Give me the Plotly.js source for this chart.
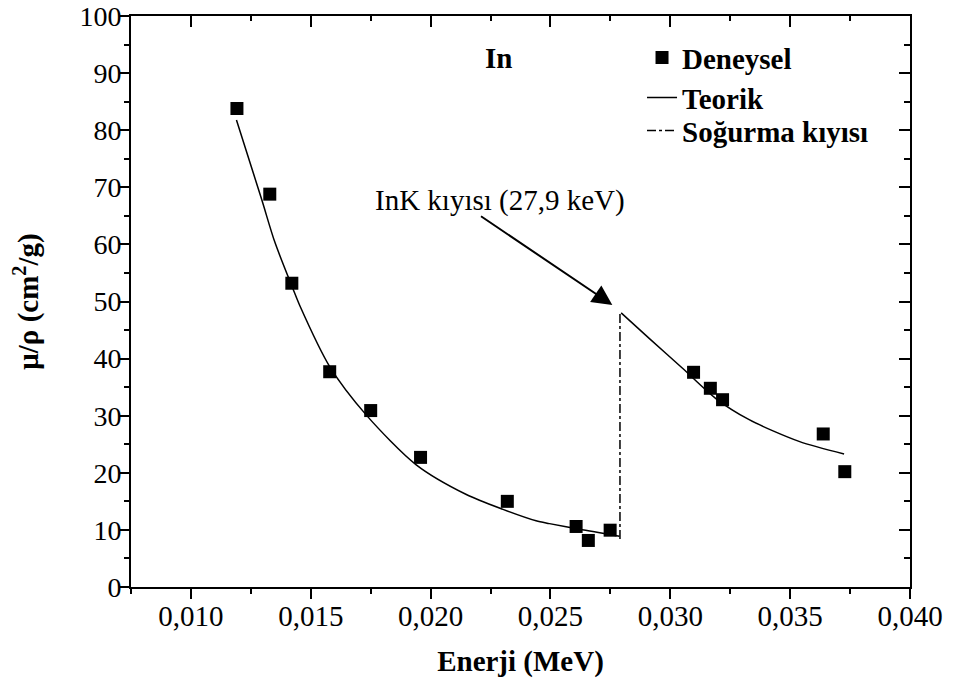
<!DOCTYPE html>
<html>
<head>
<meta charset="utf-8">
<script src="https://cdn.plot.ly/plotly-3.0.1.min.js"></script>
<style>html,body{margin:0;padding:0;background:#fff;}#chart{width:958px;height:681px;}</style>
</head>
<body>
<div id="chart"></div>
<script>
// Experimental points (Deneysel)
var expEnergy = [0.01192, 0.01329, 0.01421, 0.01579, 0.0175, 0.01958, 0.0232, 0.02607, 0.02658, 0.02749, 0.03097, 0.03167, 0.03218, 0.03638, 0.03728];
var expMu     = [83.8, 68.8, 53.2, 37.7, 30.9, 22.7, 15.0, 10.6, 8.15, 9.95, 37.6, 34.8, 32.8, 26.8, 20.2];

// Theoretical curve (Teorik), below and above the K edge
var theoryLowE  = [0.0119, 0.01295, 0.0135, 0.01426, 0.01454, 0.01579, 0.01732, 0.0194, 0.02149, 0.02302, 0.0244, 0.02496, 0.02621, 0.02788];
var theoryLowMu = [81.8, 67.9, 60.4, 52.2, 49.3, 38.6, 30.1, 21.4, 16.2, 13.6, 11.6, 11.1, 10.1, 8.9];
var theoryHighE  = [0.02795, 0.02913, 0.03051, 0.0319, 0.03329, 0.03537, 0.03725];
var theoryHighMu = [48.0, 43.5, 38.3, 33.0, 29.3, 25.5, 23.3];

// Absorption edge (Soğurma kıyısı)
var edgeE  = [0.0279, 0.0279];
var edgeMu = [8.4, 48.0];

// Tick values
var xTickVals = [0.010, 0.015, 0.020, 0.025, 0.030, 0.035, 0.040];
var xTickText = ['0,010', '0,015', '0,020', '0,025', '0,030', '0,035', '0,040'];
var yTickVals = [0, 10, 20, 30, 40, 50, 60, 70, 80, 90, 100];
var yTickText = ['0', '10', '20', '30', '40', '50', '60', '70', '80', '90', '100'];

var FONT = 'Liberation Serif';

var theoryE = theoryLowE.concat([null], theoryHighE);
var theoryMu = theoryLowMu.concat([null], theoryHighMu);

var traces = [
  {x: theoryE, y: theoryMu, mode: 'lines', name: 'Teorik', legend: 'legend2',
   line: {color: '#000', width: 1.5, shape: 'spline', smoothing: 0.8}, connectgaps: false},
  {x: edgeE, y: edgeMu, mode: 'lines', name: 'Soğurma kıyısı', legend: 'legend3',
   line: {color: '#000', width: 1.5, dash: 'dashdot'}},
  {x: expEnergy, y: expMu, mode: 'markers', name: 'Deneysel', legend: 'legend',
   marker: {symbol: 'square', size: 13, color: '#000'}},
  {x: [0.02], y: [50], xaxis: 'x2', yaxis: 'y2', showlegend: false, hoverinfo: 'skip', mode: 'markers',
   marker: {opacity: 0, size: 1}}
];

var axisCommon = {
  showgrid: false, zeroline: false, showline: true, linecolor: '#000', linewidth: 2,
  tickcolor: '#000', tickwidth: 2
};

var legendFont = {family: FONT, size: 29, weight: 'bold', color: '#000'};
function legendAt(y) {
  return {x: 0.656, y: y, xanchor: 'left', yanchor: 'middle', bgcolor: 'rgba(0,0,0,0)',
          font: legendFont, borderwidth: 0};
}

var layout = {
  width: 958, height: 681,
  margin: {l: 131, r: 48, t: 16, b: 94},
  paper_bgcolor: '#fff', plot_bgcolor: '#fff',
  font: {family: FONT, color: '#000', size: 29},
  showlegend: true,
  legend: legendAt(0.927),
  legend2: legendAt(0.857),
  legend3: legendAt(0.799),
  xaxis: Object.assign({}, axisCommon, {
    range: [0.0075, 0.040], tickmode: 'array', tickvals: xTickVals, ticktext: xTickText,
    ticks: 'outside', ticklen: 10, mirror: false, ticklabelstandoff: -8, ticklabeloverflow: 'allow',
    minor: {tick0: 0, dtick: 0.0025, ticks: 'outside', ticklen: 5, tickwidth: 2, tickcolor: '#000'},
    tickfont: {family: FONT, size: 29},
    title: {text: 'Enerji (MeV)', font: {family: FONT, size: 29, weight: 'bold'}, standoff: 20}
  }),
  yaxis: Object.assign({}, axisCommon, {
    range: [0, 100], tickmode: 'array', tickvals: yTickVals, ticktext: yTickText,
    ticks: 'outside', ticklen: 9, mirror: false, ticklabelstandoff: -7, ticklabeloverflow: 'allow',
    minor: {tick0: 0, dtick: 5, ticks: 'outside', ticklen: 5, tickwidth: 2, tickcolor: '#000'},
    tickfont: {family: FONT, size: 28},
    title: {text: 'μ/ρ (cm<sup>2</sup>/g)', font: {family: FONT, size: 29, weight: 'bold'}, standoff: 32}
  }),
  xaxis2: Object.assign({}, axisCommon, {
    overlaying: 'x', side: 'top', anchor: 'y2', range: [0.0075, 0.040],
    tickmode: 'array', tickvals: xTickVals, ticks: 'inside', ticklen: 11, showticklabels: false,
    minor: {tick0: 0, dtick: 0.0025, ticks: 'inside', ticklen: 5, tickwidth: 2, tickcolor: '#000'}
  }),
  yaxis2: Object.assign({}, axisCommon, {
    overlaying: 'y', side: 'right', anchor: 'x2', range: [0, 100],
    tickmode: 'array', tickvals: yTickVals, ticks: 'inside', ticklen: 11, showticklabels: false,
    minor: {tick0: 0, dtick: 5, ticks: 'inside', ticklen: 6, tickwidth: 2, tickcolor: '#000'}
  }),
  annotations: [
    {x: 0.02283, y: 92.7, xref: 'x', yref: 'y', text: '<b>In</b>', showarrow: false,
     font: {family: FONT, size: 29, color: '#000'}},
    {x: 0.02288, y: 67.7, xref: 'x', yref: 'y', text: 'InK kıyısı (27,9 keV)', showarrow: false,
     font: {family: FONT, size: 29, color: '#000'}},
    {x: 0.02758, y: 49.4, xref: 'x', yref: 'y', ax: 0.02204, ay: 65.1, axref: 'x', ayref: 'y',
     text: '', showarrow: true, arrowhead: 2, arrowsize: 2, arrowwidth: 2, arrowcolor: '#000'}
  ]
};

Plotly.newPlot('chart', traces, layout, {displayModeBar: false, staticPlot: true});
</script>
</body>
</html>
